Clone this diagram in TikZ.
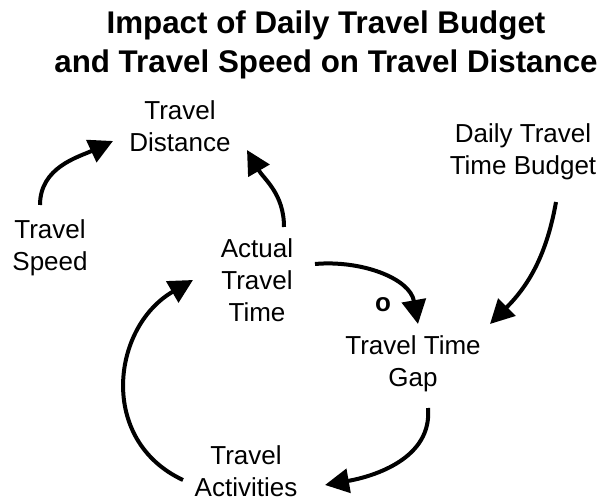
\documentclass[tikz,border=0pt]{standalone}
\usepackage{fontspec}
\setmainfont{Liberation Sans}
\usetikzlibrary{arrows.meta}
\tikzset{var/.style={align=center,inner sep=0pt,font=\fontsize{19.5}{24}\selectfont}}
\tikzset{link/.style={line width=3pt,-{Triangle[length=18pt,width=18pt]}}}

\begin{document}
\begin{tikzpicture}[x=0.75pt,y=0.75pt]
\useasboundingbox (0,0) rectangle (606,500);
\node[align=center,inner sep=0pt,font=\fontsize{23.5}{29}\bfseries] (title) at (326,455) {Impact of Daily Travel Budget\\ and Travel Speed on Travel Distance};

% variables
\node[var] (dist) at (180,374) {Travel\\Distance};
\node[var] (budget) at (523,348) {Daily Travel\\Time Budget};
\node[var] (speed) at (50,252) {Travel\\Speed};
\node[var] (actual) at (257,220) {Actual\\Travel\\Time};
\node[var] (gap) at (413,136) {Travel Time\\Gap};
\node[var] (activ) at (246,29) {Travel\\Activities};
\node[font=\fontsize{19.5}{24}\bfseries] (sign) at (383,195) {o};

% links
\draw[link] ([shift={(-10,43)}]speed.center) to[out=90,in=205] ([shift={(-67,-15)}]dist.center);
\draw[link] ([shift={(27,53)}]actual.center) to[out=90,in=-60] ([shift={(67,-24)}]dist.center);
\draw[link] ([shift={(58,16)}]actual.center) to[out=5,in=100] ([shift={(5,40)}]gap.center);
\draw[link] ([shift={(33,-50)}]budget.center) to[out=-100,in=45] ([shift={(77,40)}]gap.center);
\draw[link] ([shift={(15,-44)}]gap.center) to[out=-85,in=10] ([shift={(79,-14)}]activ.center);
\draw[link] ([shift={(-63,-9)}]activ.center) to[out=155,in=210,looseness=1.2] ([shift={(-64,0)}]actual.center);
\end{tikzpicture}
\end{document}
